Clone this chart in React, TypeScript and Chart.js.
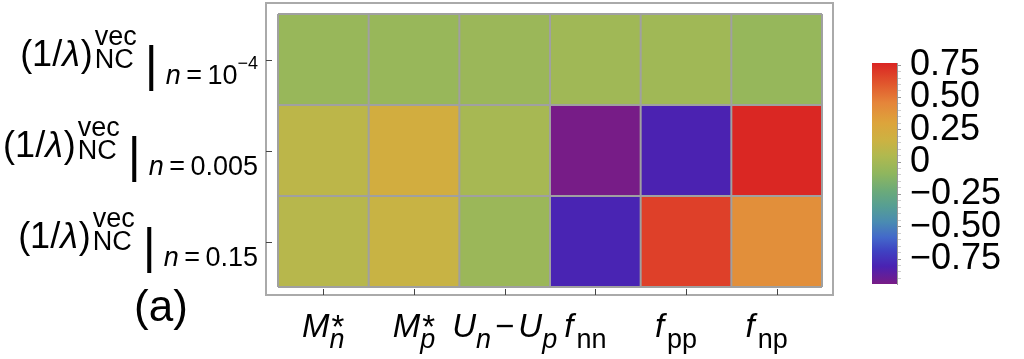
import React, { useEffect, useRef } from 'react';
import { Chart, registerables } from 'chart.js';

Chart.register(...registerables);

// ---------------- data ----------------
const columnKeys = ['Mn*', 'Mp*', 'Un-Up', 'fnn', 'fpp', 'fnp'];
const rowDensityBase = ['10', '0.005', '0.15'];
const rowDensityExp = ['\u22124', '', ''];
const valuesN1e4 = [-0.05, -0.05, -0.04, -0.02, -0.02, -0.06];
const valuesN0005 = [0.1, 0.22, 0.01, -0.94, -0.81, 0.76];
const valuesN015 = [0.08, 0.15, -0.04, -0.8, 0.68, 0.41];
const rowValues = [valuesN1e4, valuesN0005, valuesN015];
const colorbarTicks = [0.75, 0.5, 0.25, 0, -0.25, -0.5, -0.75];
const colorbarMin = -0.943;
const colorbarMax = 0.766;
const panelLabel = '(a)';

// Mathematica-like "Rainbow" colour scheme, t from 0 (min) to 1 (max)
const rainbowStops: [number, string][] = [
  [0.0, '#781c86'],
  [0.08, '#4a22b2'],
  [0.15, '#3f42c2'],
  [0.21, '#4368ca'],
  [0.28, '#4a8bb2'],
  [0.35, '#569e94'],
  [0.42, '#6baa7a'],
  [0.5, '#8fb65e'],
  [0.58, '#b0b94f'],
  [0.65, '#ccb242'],
  [0.73, '#dda43b'],
  [0.82, '#e5853a'],
  [0.9, '#e15a2e'],
  [1.0, '#da2523'],
];

const FONT = '"Liberation Sans", Arial, sans-serif';
const rm = (s: number) => `${s}px ${FONT}`;
const it = (s: number) => `italic ${s}px ${FONT}`;

function hexToRgb(h: string) {
  const n = parseInt(h.slice(1), 16);
  return [(n >> 16) & 255, (n >> 8) & 255, n & 255];
}
function valueToColor(v: number) {
  let t = (v - colorbarMin) / (colorbarMax - colorbarMin);
  t = Math.max(0, Math.min(1, t));
  for (let i = 0; i < rainbowStops.length - 1; i++) {
    const [t0, c0] = rainbowStops[i];
    const [t1, c1] = rainbowStops[i + 1];
    if (t >= t0 && t <= t1) {
      const f = (t - t0) / (t1 - t0);
      const a = hexToRgb(c0);
      const b = hexToRgb(c1);
      const m = a.map((x, k) => Math.round(x + (b[k] - x) * f));
      return `rgb(${m[0]},${m[1]},${m[2]})`;
    }
  }
  return rainbowStops[rainbowStops.length - 1][1];
}

// ---------------- rich text ----------------
type Run = { t: string; f: string; dy?: number; dx?: number };
type Item = Run | { stack: Run[]; dx?: number };

function itemWidth(ctx: CanvasRenderingContext2D, item: Item): number {
  if ('stack' in item) {
    return (
      (item.dx || 0) +
      Math.max(
        ...item.stack.map((r) => {
          ctx.font = r.f;
          return ctx.measureText(r.t).width + (r.dx || 0);
        })
      )
    );
  }
  ctx.font = item.f;
  return (item.dx || 0) + ctx.measureText(item.t).width;
}

function drawRich(ctx: CanvasRenderingContext2D, items: Item[], x: number, base: number, align: string) {
  const widths = items.map((i) => itemWidth(ctx, i));
  const total = widths.reduce((s, w) => s + w, 0);
  let cx = align === 'right' ? x - total : align === 'center' ? x - total / 2 : x;
  ctx.textAlign = 'left';
  ctx.textBaseline = 'alphabetic';
  ctx.fillStyle = '#000';
  items.forEach((item, k) => {
    const start = cx + (item.dx || 0);
    if ('stack' in item) {
      for (const r of item.stack) {
        ctx.font = r.f;
        ctx.fillText(r.t, start + (r.dx || 0), base + (r.dy || 0));
      }
    } else {
      ctx.font = item.f;
      ctx.fillText(item.t, start, base + (item.dy || 0));
    }
    cx += widths[k];
  });
}

function xLabelItems(key: string): Item[] {
  switch (key) {
    case 'Mn*':
    case 'Mp*':
      return [
        { t: 'M', f: it(33) },
        { stack: [{ t: '*', f: rm(33), dy: 1 }, { t: key[1], f: it(27), dy: 11, dx: -2 }], dx: 2 },
      ];
    case 'Un-Up':
      return [
        { t: 'U', f: it(33) },
        { t: 'n', f: it(27), dy: 11 },
        { t: '\u2212', f: rm(33), dx: 4 },
        { t: 'U', f: it(33), dx: 4 },
        { t: 'p', f: it(27), dy: 11 },
      ];
    default:
      return [
        { t: 'f', f: it(33) },
        { t: key.slice(1), f: rm(27), dy: 11, dx: 3 },
      ];
  }
}

function yLabelItems(r: number): Item[] {
  const items: Item[] = [
    { t: '(1/', f: rm(36) },
    { t: '\u03bb', f: it(36) },
    { t: ')', f: rm(36), dx: 1 },
    { stack: [{ t: 'vec', f: rm(27), dy: -21 }, { t: 'NC', f: rm(27), dy: 2 }], dx: 2 },
    { t: '|', f: rm(50), dy: 15, dx: 8 },
    { t: 'n', f: it(27), dy: 18, dx: 8 },
    { t: '\u2009=\u2009', f: rm(27), dy: 18 },
    { t: rowDensityBase[r], f: rm(27), dy: 18 },
  ];
  if (rowDensityExp[r]) items.push({ t: rowDensityExp[r], f: rm(18), dy: 3 });
  return items;
}

const heatmapDecor = {
  id: 'heatmapDecor',
  afterDatasetsDraw(chart: any) {
    const { ctx, chartArea: ca, scales } = chart;
    const x = scales.x;
    const y = scales.y;
    ctx.save();
    // mesh lines
    ctx.strokeStyle = '#a0a0a0';
    ctx.lineWidth = 2;
    for (let i = 0; i <= columnKeys.length; i++) {
      const px = x.getPixelForValue(i - 0.5);
      ctx.beginPath();
      ctx.moveTo(px, ca.top);
      ctx.lineTo(px, ca.bottom);
      ctx.stroke();
    }
    for (let r = 0; r <= rowValues.length; r++) {
      const py = y.getPixelForValue(r);
      ctx.beginPath();
      ctx.moveTo(ca.left, py);
      ctx.lineTo(ca.right, py);
      ctx.stroke();
    }
    // frame
    const fl = ca.left - 12;
    const fr = ca.right + 11;
    const ft = ca.top - 11;
    const fb = ca.bottom + 8;
    ctx.strokeStyle = '#aaaaaa';
    ctx.lineWidth = 2;
    ctx.strokeRect(fl, ft, fr - fl, fb - ft);
    // ticks
    ctx.strokeStyle = '#444';
    ctx.lineWidth = 1;
    for (let r = 0; r < rowValues.length; r++) {
      const py = Math.round(y.getPixelForValue(r + 0.5)) + 0.5;
      ctx.beginPath();
      ctx.moveTo(fl, py);
      ctx.lineTo(fl + 6, py);
      ctx.stroke();
    }
    for (let i = 0; i < columnKeys.length; i++) {
      const px = Math.round(x.getPixelForValue(i)) + 0.5;
      ctx.beginPath();
      ctx.moveTo(px, fb);
      ctx.lineTo(px, fb - 6);
      ctx.stroke();
    }
    // labels
    for (let i = 0; i < columnKeys.length; i++) {
      const shift = columnKeys[i][0] === 'f' ? -10 : 0;
      drawRich(ctx, xLabelItems(columnKeys[i]), x.getPixelForValue(i) + shift, ca.bottom + 50, 'center');
    }
    for (let r = 0; r < rowValues.length; r++) {
      drawRich(ctx, yLabelItems(r), ca.left - 20, y.getPixelForValue(r + 0.5) + 6, 'right');
    }
    ctx.font = rm(44);
    ctx.textAlign = 'center';
    ctx.fillStyle = '#000';
    ctx.fillText(panelLabel, ca.left - 117, ca.bottom + 34);
    ctx.restore();
  },
};

function formatTick(v: number) {
  const hit = colorbarTicks.find((t) => Math.abs(t - v) < 1e-6);
  if (hit === undefined) return '';
  if (hit === 0) return '0';
  return (hit < 0 ? '\u2212' : '') + Math.abs(hit).toFixed(2);
}

export default function App() {
  const mainRef = useRef<HTMLCanvasElement>(null);
  const cbRef = useRef<HTMLCanvasElement>(null);

  useEffect(() => {
    const main = new Chart(mainRef.current as HTMLCanvasElement, {
      type: 'bar',
      data: {
        labels: columnKeys,
        datasets: rowValues.map((vals, r) => ({
          label: rowDensityBase[r],
          data: vals.map(() => [r, r + 1]) as any,
          backgroundColor: vals.map(valueToColor),
          borderWidth: 0,
          barPercentage: 1,
          categoryPercentage: 1,
          grouped: false,
        })),
      },
      options: {
        animation: false,
        responsive: false,
        layout: { padding: { left: 278, right: 202, top: 14, bottom: 72 } },
        plugins: { legend: { display: false }, tooltip: { enabled: false } },
        scales: {
          x: { display: false, offset: true },
          y: { display: false, min: 0, max: 3, reverse: true },
        },
      } as any,
      plugins: [heatmapDecor],
    });

    const minor: number[] = [];
    for (let i = -18; i <= 15; i++) minor.push(Math.round(i * 5) / 100);

    const cb = new Chart(cbRef.current as HTMLCanvasElement, {
      type: 'bar',
      data: {
        labels: [''],
        datasets: [
          {
            data: [[colorbarMin, colorbarMax]] as any,
            backgroundColor: (c: any) => {
              const chart = c.chart;
              const ys = chart.scales.y;
              if (!chart.chartArea || !ys) return '#888';
              const g = chart.ctx.createLinearGradient(0, ys.getPixelForValue(colorbarMin), 0, ys.getPixelForValue(colorbarMax));
              rainbowStops.forEach(([t, col]) => g.addColorStop(t, col));
              return g;
            },
            borderWidth: 0,
            barPercentage: 1,
            categoryPercentage: 1,
          },
        ],
      },
      options: {
        animation: false,
        responsive: false,
        layout: { padding: { left: 32, top: 63, bottom: 75, right: 0 } },
        plugins: { legend: { display: false }, tooltip: { enabled: false } },
        scales: {
          x: { display: false },
          y: {
            position: 'right',
            min: colorbarMin,
            max: colorbarMax,
            afterBuildTicks: (s: any) => {
              s.ticks = minor.map((v) => ({ value: v }));
            },
            afterFit: (s: any) => {
              s.width = 127;
            },
            ticks: {
              autoSkip: false,
              padding: 9,
              color: '#000',
              font: { size: 36, family: FONT },
              callback: (v: any) => formatTick(Number(v)),
            },
            grid: {
              drawOnChartArea: false,
              drawTicks: true,
              tickLength: 4,
              color: (c: any) => (c.tick && formatTick(c.tick.value) ? '#999' : '#d0d0d0'),
            },
            border: { display: true, color: '#9a9a9a', width: 1 },
          },
        },
      } as any,
    });

    return () => {
      main.destroy();
      cb.destroy();
    };
  }, []);

  return (
    <div style={{ position: 'fixed', left: 0, top: 0, width: 1024, height: 359, background: '#fff' }}>
      <canvas ref={mainRef} width={1024} height={359} style={{ position: 'absolute', left: 0, top: 0 }} />
      <canvas ref={cbRef} width={184} height={359} style={{ position: 'absolute', left: 840, top: 0 }} />
    </div>
  );
}
